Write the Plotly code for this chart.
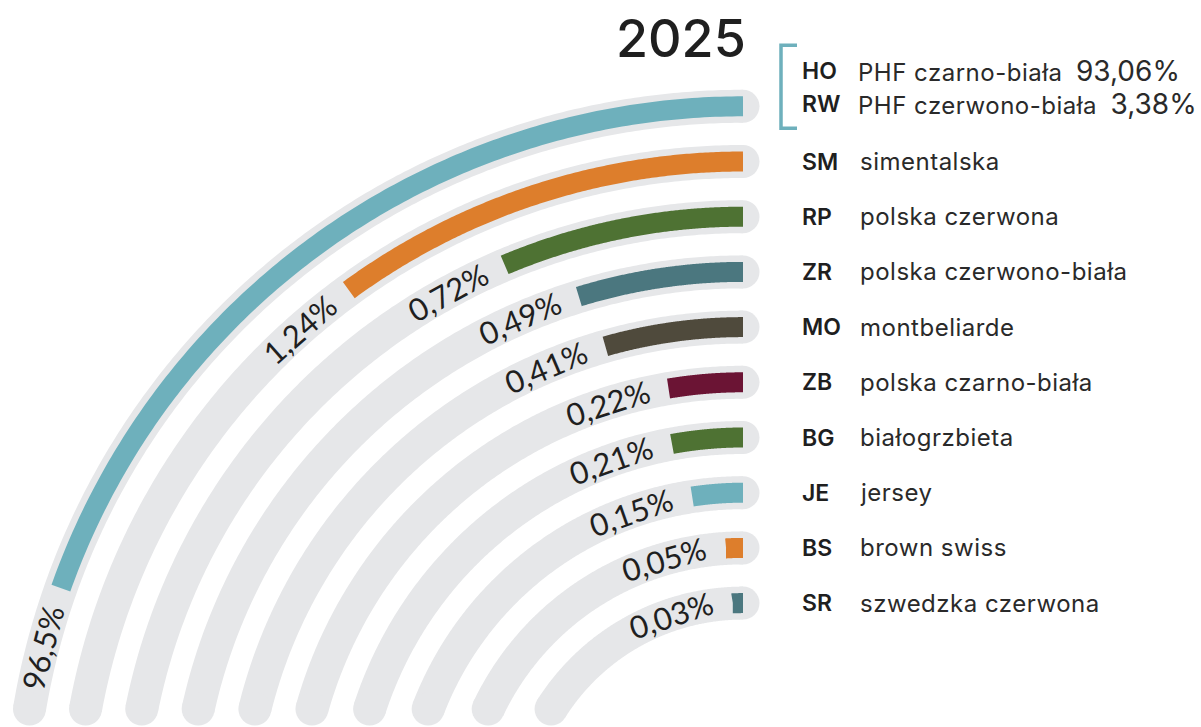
import numpy as np
import plotly.graph_objects as go

# ---- data -------------------------------------------------------------
year = "2025"

ring_codes = ["HO/RW", "SM", "RP", "ZR", "MO", "ZB", "BG", "JE", "BS", "SR"]
ring_values = [96.5, 1.24, 0.72, 0.49, 0.41, 0.22, 0.21, 0.15, 0.05, 0.03]
ring_colors = ["#6EB0BC", "#DD7E2C", "#4E7233", "#4B777F", "#4F4A3C",
               "#6B1434", "#4E7233", "#6EB0BC", "#DD7E2C", "#4B777F"]

legend_codes = ["SM", "RP", "ZR", "MO", "ZB", "BG", "JE", "BS", "SR"]
legend_names = ["simentalska", "polska czerwona", "polska czerwono-biała",
                "montbeliarde", "polska czarno-biała", "białogrzbieta",
                "jersey", "brown swiss", "szwedzka czerwona"]

phf_codes = ["HO", "RW"]
phf_names = ["PHF czarno-biała", "PHF czerwono-biała"]
phf_values = [93.06, 3.38]

# ---- layout constants (1 axis unit = 1 px, origin at the arc centre) ---
W, H = 1201, 727
CX, CY = 743, 830            # arc centre in page pixels
R_OUT, STEP = 723.7, 55.2    # outer track radius and ring spacing
TRACK_W, BAR_W = 33, 20
Y_END = 121                  # tracks stop at this height above the centre
PX_PER_PCT = 340             # arc length per percentage point
LABEL_ROOM = 125             # track length kept free for an overflowing bar's label
LABEL_GAP = 24
LABEL_FS = 31
TRACK = "#E6E7E9"
INK = "#1F1F1F"
NAME_FS = 24


def pct(v):
    return f"{v:g}".replace(".", ",") + "%"


def label_width(s, fs):
    w = 0.0
    for ch in s:
        if ch.isdigit():
            w += 0.52
        elif ch == ",":
            w += 0.22
        elif ch == "%":
            w += 0.72
        else:
            w += 0.5
    return w * fs


def spaced(s):
    return f"<span style='letter-spacing:0.5px'>{s}</span>"


fig = go.Figure()

radii = [R_OUT - STEP * i for i in range(len(ring_values))]

# background tracks with round caps
tx, ty, cx_, cy_ = [], [], [], []
for r in radii:
    sweep = np.arccos(Y_END / r)
    t = np.linspace(0, sweep, 240)
    tx += list(-r * np.sin(t)) + [None]
    ty += list(r * np.cos(t)) + [None]
    cx_ += [0.0, -r * np.sin(sweep)]
    cy_ += [r, r * np.cos(sweep)]
fig.add_trace(go.Scatter(x=tx, y=ty, mode="lines",
                         line=dict(color=TRACK, width=TRACK_W, simplify=False),
                         hoverinfo="skip"))
fig.add_trace(go.Scatter(x=cx_, y=cy_, mode="markers",
                         marker=dict(color=TRACK, size=TRACK_W, line_width=0),
                         hoverinfo="skip"))

# value bars and their labels
annotations = []
for r, v, col in zip(radii, ring_values, ring_colors):
    track_len = r * np.arccos(Y_END / r)
    bar_len = min(v * PX_PER_PCT, track_len - LABEL_ROOM)
    sweep = bar_len / r
    t = np.linspace(0, sweep, 160)
    fig.add_trace(go.Scatter(x=-r * np.sin(t), y=r * np.cos(t), mode="lines",
                             line=dict(color=col, width=BAR_W, simplify=False),
                             hoverinfo="skip"))
    txt = pct(v)
    s = bar_len + LABEL_GAP + label_width(txt, LABEL_FS) / 2
    a = s / r
    annotations.append(dict(
        x=-r * np.sin(a), y=r * np.cos(a), text=txt, showarrow=False,
        textangle=-np.degrees(a), xanchor="center", yanchor="middle",
        font=dict(family="Lato", size=LABEL_FS, color=INK)))

# legend rows aligned with the tracks
CODE_X = 800 - CX
NAME_X = 858 - CX
for r, code, name in zip(radii[1:], legend_codes, legend_names):
    annotations.append(dict(x=CODE_X, y=r, text=code, showarrow=False,
                            xanchor="left", yanchor="middle",
                            font=dict(family="Inter", size=23, color=INK, weight=600)))
    annotations.append(dict(x=NAME_X, y=r, text=spaced(name), showarrow=False,
                            xanchor="left", yanchor="middle",
                            font=dict(family="Inter", size=NAME_FS, color="#2A2A2A")))

# the first ring groups two Holstein-Friesian lines
phf_y = [radii[0] + 35, radii[0] + 2]
for yy, code, name, val in zip(phf_y, phf_codes, phf_names, phf_values):
    annotations.append(dict(x=CODE_X, y=yy, text=code, showarrow=False,
                            xanchor="left", yanchor="middle",
                            font=dict(family="Inter", size=23, color=INK, weight=600)))
    annotations.append(dict(
        x=NAME_X - 2, y=yy,
        text=f"{spaced(name)}  <span style='font-size:28px'>{pct(val)}</span>",
        showarrow=False, xanchor="left", yanchor="middle",
        font=dict(family="Inter", size=NAME_FS, color="#2A2A2A")))

# bracket around the two PHF rows
bx0, bx1 = 781 - CX, 797 - CX
by0, by1 = phf_y[0] + 26, phf_y[1] - 24
shapes = [dict(type="path",
               path=f"M {bx1},{by0} L {bx0},{by0} L {bx0},{by1} L {bx1},{by1}",
               line=dict(color="#6EB0BC", width=3.5), xref="x", yref="y")]

# year title
annotations.append(dict(x=681 - CX, y=CY - 38, text=year, showarrow=False,
                        xanchor="center", yanchor="middle",
                        font=dict(family="Inter", size=52, color=INK, weight=500)))

fig.update_layout(
    width=W, height=H, margin=dict(l=0, r=0, t=0, b=0),
    paper_bgcolor="white", plot_bgcolor="white", showlegend=False,
    xaxis=dict(range=[-CX, W - CX], visible=False, fixedrange=True),
    yaxis=dict(range=[CY - H, CY], visible=False, fixedrange=True),
    annotations=annotations, shapes=shapes,
)

fig.write_html("out.html")
